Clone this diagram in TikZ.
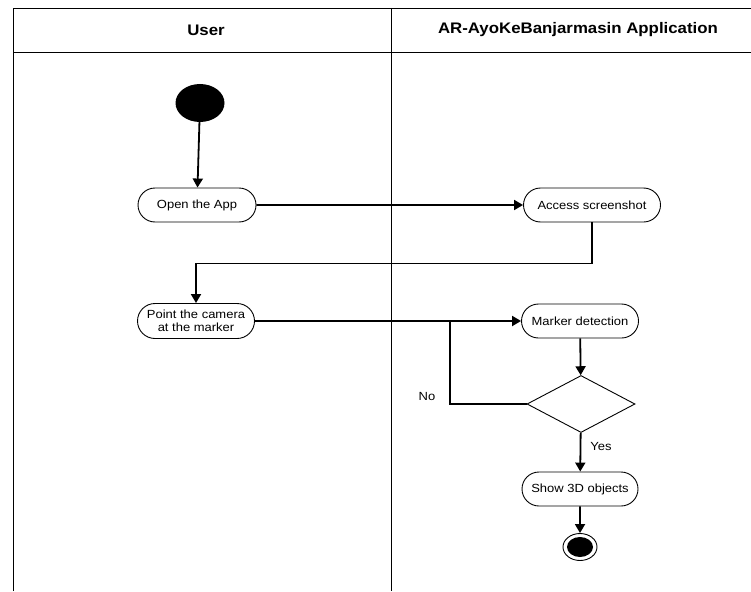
\documentclass[tikz,border=0pt]{standalone}
\usepackage{fontspec}
\setmainfont{Liberation Sans}[FakeStretch=1.1]
\usetikzlibrary{shapes.misc,shapes.geometric,arrows.meta}

\begin{document}
\begin{tikzpicture}[x=1pt,y=-1pt,
		act/.style={draw, rounded rectangle, minimum height=34pt, inner sep=2pt, align=center, line width=0.9pt, font=\fontsize{11.8}{13}\selectfont},
		flow/.style={line width=1.8pt, -{Triangle[length=9pt,width=10pt]}},
		flowline/.style={line width=1.8pt},
		lane/.style={line width=0.9pt},
		lanetitle/.style={font=\bfseries\fontsize{15.3}{17}\selectfont}]
		\useasboundingbox (0,0) rectangle (751,591);
		% swimlanes
		\draw[lane] (13,591) -- (13,8) -- (751,8);
		\draw[lane] (13,52) -- (751,52);
		\draw[lane] (391,8) -- (391,591);
		\node[lanetitle] (user) at (206,30) {User};
		\node[lanetitle] (app) at (578,30) {AR-AyoKeBanjarmasin Application};
		% activities
		\node[ellipse, fill, minimum width=49pt, minimum height=38pt, inner sep=0pt] (start) at (200,103) {};
		\node[act, minimum width=122pt] (open) at (197,205) {Open the App};
		\node[act, minimum width=141pt] (access) at (592,205) {Access screenshot};
		\node[act, minimum width=121pt, minimum height=35pt] (point) at (196,321) {Point the camera\\at the marker};
		\node[act, minimum width=121pt] (marker) at (580,321) {Marker detection};
		\node[diamond, draw, line width=0.9pt, minimum width=108pt, minimum height=57pt, inner sep=0pt] (check) at (581,404) {};
		\node[act, minimum width=120pt] (show) at (580,489) {Show 3D objects};
		\node[ellipse, draw, line width=0.9pt, minimum width=34pt, minimum height=27pt, inner sep=0pt] (end) at (580,547) {};
		\node[ellipse, fill, minimum width=26pt, minimum height=20pt, inner sep=0pt] (endfill) at (580,547) {};
		\coordinate (join) at (450,321);
		\node[font=\fontsize{11.8}{13}\selectfont] (no) at (427,396) {No};
		\node[font=\fontsize{11.8}{13}\selectfont] (yes) at (601,446) {Yes};
		% flows
		\draw[flow] (start) -- (open);
		\draw[flow] (open) -- (access);
		\draw[flow] (access.south) -- ++(0,41) -| (point.north);
		\draw[flow] (point) -- (marker);
		\draw[flow] (marker) -- (check);
		\draw[flowline] (check.west) -| (join);
		\draw[flow] (check) -- (show);
		\draw[flow] (show) -- (end);
	\end{tikzpicture}
\end{document}
